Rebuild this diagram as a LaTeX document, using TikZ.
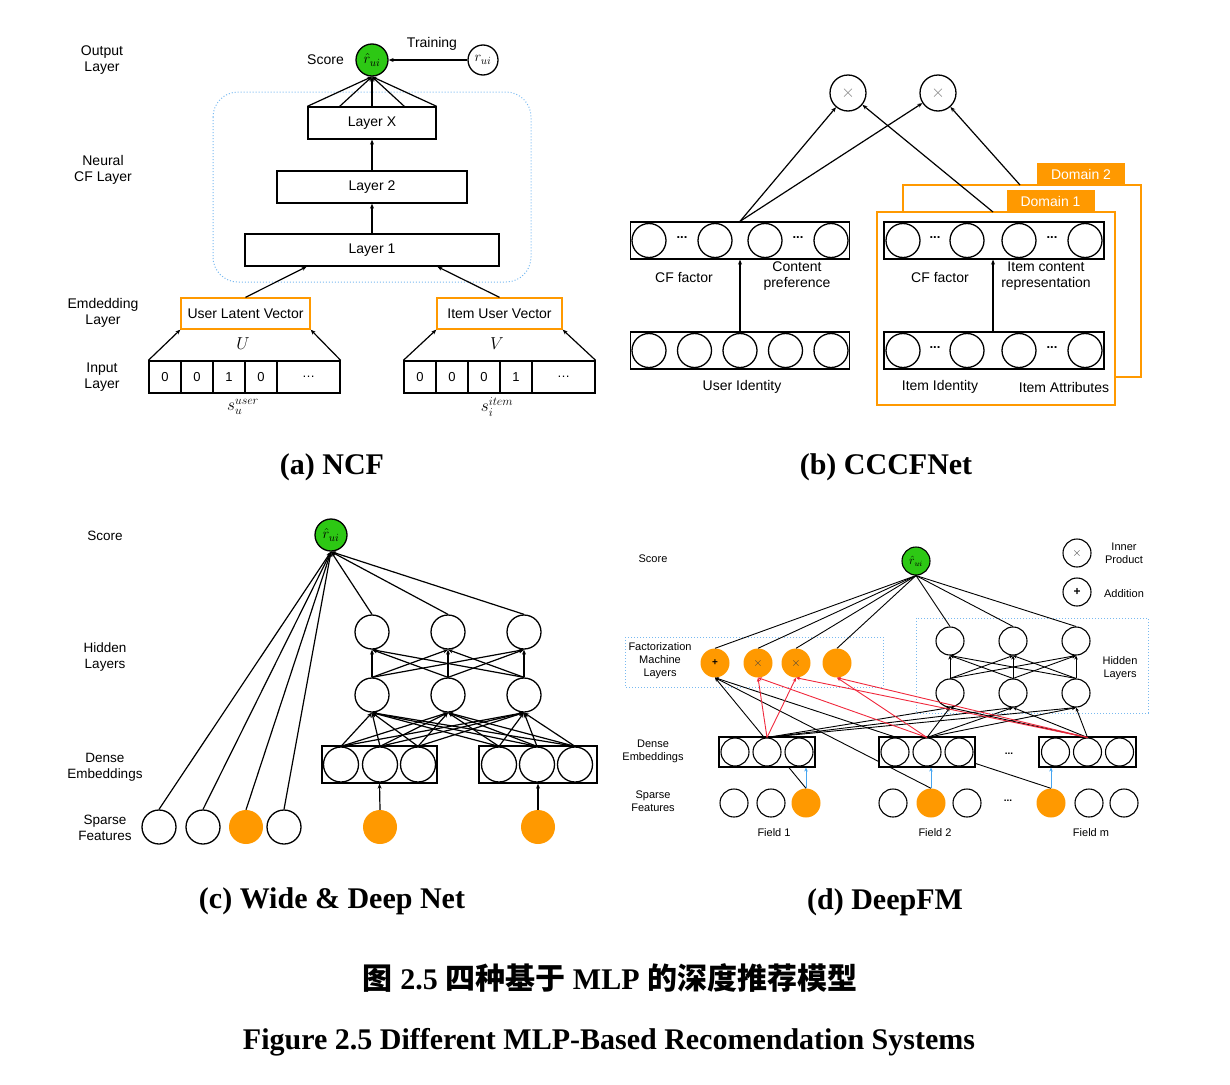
\documentclass[tikz,border=0pt]{standalone}
\usepackage{fontspec}
\setmainfont{Liberation Sans}
\newfontfamily\capfont{Liberation Serif}
\newfontfamily\cjkfont{Noto Sans CJK SC}
\usetikzlibrary{arrows.meta,calc}
\definecolor{orng}{RGB}{255,153,0}
\definecolor{grn}{RGB}{45,200,20}
\definecolor{bluel}{RGB}{120,185,240}
\definecolor{redl}{RGB}{240,40,60}
\definecolor{bluea}{RGB}{70,165,240}
\begin{document}
\begin{tikzpicture}[x=1pt,y=-1pt,
  ln/.style={line width=1.2pt},
  arr/.style={line width=1.2pt,-{Stealth[length=5pt,width=4pt]}},
  thinln/.style={line width=0.9pt},
  tarr/.style={line width=0.9pt,-{Stealth[length=4pt,width=3.5pt]}},
  lbl/.style={font=\fontsize{14}{16.5}\selectfont, align=center, inner sep=0pt},
  slbl/.style={font=\fontsize{11}{13}\selectfont, align=center, inner sep=0pt},
  captxt/.style={font=\capfont\bfseries\fontsize{30}{34}\selectfont, inner sep=0pt},
  neu/.style={circle, draw, line width=1.3pt, fill=white, inner sep=0pt, minimum size=34pt},
  sneu/.style={circle, draw, line width=1.1pt, fill=white, inner sep=0pt, minimum size=28pt},
  onode/.style={circle, fill=orng, inner sep=0pt, minimum size=34pt},
  sonode/.style={circle, fill=orng, inner sep=0pt, minimum size=29pt},
  gnode/.style={circle, draw, line width=1.3pt, fill=grn, inner sep=0pt, minimum size=32pt, font=\fontsize{15}{17}\selectfont},
  lbox/.style={draw, line width=1.3pt, minimum height=32pt, inner sep=0pt, font=\fontsize{14}{16}\selectfont},
  obox/.style={draw=orng, line width=1.3pt, minimum height=31pt, inner sep=0pt, font=\fontsize{14}{16}\selectfont},
  cell/.style={draw, line width=1.3pt, minimum height=32pt, minimum width=32pt, inner sep=0pt, font=\fontsize{13}{15}\selectfont},
  vbox/.style={draw, line width=1.3pt, fill=white, inner sep=0pt},
  frame/.style={draw=orng, line width=1.3pt, fill=white, inner sep=0pt},
  tab/.style={fill=orng, text=white, minimum width=88pt, minimum height=22pt, inner sep=0pt, font=\fontsize{14}{16}\selectfont},
  bdot/.style={draw=bluel, line width=1pt, dotted},
  dts/.style={font=\bfseries\fontsize{13}{13}\selectfont, inner sep=0pt},
  sdts/.style={font=\bfseries\fontsize{10}{10}\selectfont, inner sep=0pt},
]
\useasboundingbox (0,0) rectangle (1230,1084);

%================ (a) NCF =================
\node[lbl] at (102,60) {Output\\Layer};
\node[lbl] at (103,170) {Neural\\CF Layer};
\node[lbl] at (103,313) {Emdedding\\Layer};
\node[lbl] at (102,377) {Input\\Layer};
\draw[bdot, rounded corners=25pt] (213,92) rectangle (531,282);
\node[gnode] (aS) at (372,60) {$\hat r_{ui}$};
\node[lbl, anchor=east] at (344,60) {Score};
\node[neu, minimum size=30pt, font=\fontsize{15}{17}\selectfont] (aR) at (483,60) {$r_{ui}$};
\node[lbl] at (432,44) {Training};
\draw[arr] (aR) -- (aS);
\node[lbox, minimum width=128pt] (aLX) at (372,123) {Layer X};
\node[lbox, minimum width=190pt] (aL2) at (372,187) {Layer 2};
\node[lbox, minimum width=254pt] (aL1) at (372,250) {Layer 1};
\draw[arr] (aL2) -- (aLX);
\draw[arr] (aL1) -- (aL2);
\foreach \f in {0,0.25,0.5,0.75,1}
  \draw[arr] ($(aLX.north west)!\f!(aLX.north east)$) -- (aS.south);
\node[obox, minimum width=129pt] (aU) at (245.5,313.5) {User Latent Vector};
\node[obox, minimum width=125pt] (aV) at (499.5,313.5) {Item User Vector};
\draw[arr] (aU.north) -- ($(aL1.south west)!0.244!(aL1.south east)$);
\draw[arr] (aV.north) -- ($(aL1.south west)!0.756!(aL1.south east)$);
\foreach \t [count=\i] in {0,0,1,0} \node[cell] (aUc\i) at ({165+32*(\i-1)},377) {\t};
\node[cell, minimum width=63pt] (aUc5) at (308.5,377) {\dots};
\foreach \t [count=\i] in {0,0,0,1} \node[cell] (aVc\i) at ({420+32*(\i-1)},377) {\t};
\node[cell, minimum width=63pt] (aVc5) at (563.5,377) {\dots};
\draw[arr] (aUc1.north west) -- (aU.south west);
\draw[arr] (aUc5.north east) -- (aU.south east);
\draw[arr] (aVc1.north west) -- (aV.south west);
\draw[arr] (aVc5.north east) -- (aV.south east);
\node[font=\fontsize{18}{20}\selectfont] at (243,344) {$U$};
\node[font=\fontsize{18}{20}\selectfont] at (497,344) {$V$};
\node[font=\fontsize{17}{19}\selectfont] at (243,407) {$s_u^{user}$};
\node[font=\fontsize{17}{19}\selectfont] at (497,407) {$s_i^{item}$};
\node[captxt] at (332,467) {(a) NCF};

%================ (b) CCCFNet =================
\node[neu, minimum size=36pt, font=\fontsize{16}{16}\selectfont] (bX1) at (848,93) {\textcolor{gray}{$\times$}};
\node[neu, minimum size=36pt, font=\fontsize{16}{16}\selectfont] (bX2) at (938,93) {\textcolor{gray}{$\times$}};
% user side
\node[vbox, minimum width=219pt, minimum height=37pt] (bLT) at (740,240.5) {};
\foreach \x [count=\i] in {649,715,765,831} \node[neu] (bLT\i) at (\x,240.5) {};
\node[dts] at (682,238) {...};
\node[dts] at (798,238) {...};
\node[vbox, minimum width=219pt, minimum height=37pt] (bLB) at (740,350.5) {};
\foreach \x [count=\i] in {649,694.5,740,785.5,831} \node[neu] (bLB\i) at (\x,350.5) {};
\draw[arr] (bLB) -- (bLT);
\node[lbl] at (684,277) {CF factor};
\node[lbl] at (797,276) {Content\\preference};
\node[lbl] at (742,387) {User Identity};
% domains
\node[frame, minimum width=238pt, minimum height=192pt] (bD2) at (1022,281) {};
\node[tab] (bT2) at (1081,174) {Domain 2};
\node[frame, minimum width=238pt, minimum height=193pt] (bD1) at (996,308.5) {};
\node[tab] (bT1) at (1050.5,201) {Domain 1};
\node[vbox, minimum width=220pt, minimum height=37pt] (bRT) at (994,240.5) {};
\foreach \x [count=\i] in {903,967,1019,1085} \node[neu] (bRT\i) at (\x,240.5) {};
\node[dts] at (935,238) {...};
\node[dts] at (1052,238) {...};
\node[vbox, minimum width=220pt, minimum height=37pt] (bRB) at (994,350.5) {};
\foreach \x [count=\i] in {903,967,1019,1085} \node[neu] (bRB\i) at (\x,350.5) {};
\node[dts] at (935,348) {...};
\node[dts] at (1052,348) {...};
\coordinate (bRm) at ($(bRB2.east)!0.5!(bRB3.west)$);
\draw[arr] (bRm |- bRB.north) -- (bRm |- bRT.south);
\node[lbl] at (940,277) {CF factor};
\node[lbl] at (1046,276) {Item content\\representation};
\node[lbl] at (940,387) {Item Identity};
\node[lbl] at (1064,387) {Item Attributes};
\coordinate (bD1t) at (993,212);
\coordinate (bD2t) at (1020,185);
\draw[arr] (bLT.north) -- (bX1);
\draw[arr] (bLT.north) -- (bX2);
\draw[arr] (bD1t) -- (bX1);
\draw[arr] (bD2t) -- (bX2);
\node[captxt] at (886,467) {(b) CCCFNet};

%================ (c) Wide & Deep =================
\node[lbl, font=\fontsize{13.5}{16}\selectfont] at (105,536) {Score};
\node[lbl, font=\fontsize{13.5}{16}\selectfont] at (105,657) {Hidden\\Layers};
\node[lbl, font=\fontsize{13.5}{16}\selectfont] at (105,767) {Dense\\Embeddings};
\node[lbl, font=\fontsize{13.5}{16}\selectfont] at (105,828) {Sparse\\Features};
\node[gnode] (cG) at (331,535) {$\hat r_{ui}$};
\foreach \x [count=\i] in {372,448,524} {
  \node[neu] (cH\i) at (\x,632) {};
  \node[neu] (cL\i) at (\x,695) {};
}
\node[vbox, minimum width=115pt, minimum height=37pt] (cB1) at (379.5,764.5) {};
\node[vbox, minimum width=118pt, minimum height=37pt] (cB2) at (538,764.5) {};
\foreach \x [count=\i] in {341,380,418,499,537,575} \node[neu, minimum size=35pt] (cD\i) at (\x,764.5) {};
\node[neu] (cS1) at (159,827) {};
\node[neu] (cS2) at (203,827) {};
\node[onode] (cS3) at (246,827) {};
\node[neu] (cS4) at (284,827) {};
\node[onode] (cS5) at (380,827) {};
\node[onode] (cS6) at (538,827) {};
\foreach \i in {1,...,4} \draw[arr] (cS\i.north) -- (cG.south);
\foreach \i in {1,2,3} \draw[arr] (cH\i.north) -- (cG.south);
\foreach \i in {1,2,3} \foreach \j in {1,2,3} \draw[arr] (cL\i.north) -- (cH\j.south);
\foreach \i in {1,...,6} \foreach \j in {1,2,3} \draw[arr] (cD\i.north) -- (cL\j.south);
\draw[arr] (cS5.north) -- (cB1.south);
\draw[arr] (cS6.north) -- (cS6.north |- cB2.south);
\node[captxt] at (332,901) {(c) Wide \& Deep Net};

%================ (d) DeepFM =================
\node[slbl] at (653,559) {Score};
\node[slbl] at (660,661) {Factorization\\Machine\\Layers};
\node[slbl] at (653,751) {Dense\\Embeddings};
\node[slbl] at (653,801) {Sparse\\Features};
\draw[bdot] (625,637) rectangle (883,687);
\draw[bdot] (916,618) rectangle (1148,713);
\node[slbl] at (1120,668) {Hidden\\Layers};
% legend
\node[sneu, font=\fontsize{13}{13}\selectfont] (dLx) at (1077,553) {\textcolor{darkgray}{$\times$}};
\node[slbl] at (1124,553) {Inner\\Product};
\node[sneu, font=\fontsize{12}{12}\selectfont] (dLp) at (1077,592) {\textbf{+}};
\node[slbl] at (1124,594) {Addition};
% nodes
\node[gnode, minimum size=28pt, line width=1.1pt, font=\fontsize{12}{13}\selectfont] (dG) at (916,561) {$\hat r_{ui}$};
\node[sonode] (dF1) at (715,663) {\textbf{+}};
\node[sonode, font=\fontsize{13}{13}\selectfont] (dF2) at (758,663) {\textcolor{darkgray}{$\times$}};
\node[sonode, font=\fontsize{13}{13}\selectfont] (dF3) at (796,663) {\textcolor{darkgray}{$\times$}};
\node[sonode] (dF4) at (837,663) {};
\foreach \x [count=\i] in {950,1013,1076} {
  \node[sneu] (dH\i) at (\x,641) {};
  \node[sneu] (dL\i) at (\x,693) {};
}
% sparse features
\node[sneu] (dS1) at (734,803) {};
\node[sneu] (dS2) at (771,803) {};
\node[sonode] (dS3) at (806,803) {};
\node[sneu] (dS4) at (893,803) {};
\node[sonode] (dS5) at (931,803) {};
\node[sneu] (dS6) at (967,803) {};
\node[sonode] (dS7) at (1051,803) {};
\node[sneu] (dS8) at (1089,803) {};
\node[sneu] (dS9) at (1124,803) {};
\node[sdts] at (1008,801) {...};
% first-order lines (behind embeddings)
\draw[tarr] (dS3.north) -- (dF1.south);
\draw[tarr] (dS5.north) -- (dF1.south);
\draw[tarr] (dS7.north) -- (dF1.south);
% dense embeddings
\node[vbox, line width=1.1pt, minimum width=96pt, minimum height=30pt] (dB1) at (767,752) {};
\node[vbox, line width=1.1pt, minimum width=96pt, minimum height=30pt] (dB2) at (927,752) {};
\node[vbox, line width=1.1pt, minimum width=97pt, minimum height=30pt] (dB3) at (1087.5,752) {};
\foreach \x [count=\i] in {735,767,799} \node[sneu] (dE1\i) at (\x,752) {};
\foreach \x [count=\i] in {895,927,959} \node[sneu] (dE2\i) at (\x,752) {};
\foreach \x [count=\i] in {1055.5,1087.5,1119.5} \node[sneu] (dE3\i) at (\x,752) {};
\node[sdts] at (1009,754) {...};
\node[slbl] at (774,833) {Field 1};
\node[slbl] at (935,833) {Field 2};
\node[slbl] at (1091,833) {Field m};
% embedding arrows
\draw[tarr, draw=bluea] (dS3.north) -- (dS3.north |- dB1.south);
\draw[tarr, draw=bluea] (dS5.north) -- (dS5.north |- dB2.south);
\draw[tarr, draw=bluea] (dS7.north) -- (dS7.north |- dB3.south);
% deep part
\foreach \b in {1,2,3} \foreach \j in {1,2,3} \draw[tarr] (dE\b2.north) -- (dL\j.south);
\foreach \i in {1,2,3} \foreach \j in {1,2,3} \draw[tarr] (dL\i.north) -- (dH\j.south);
% FM inner products
\draw[tarr, draw=redl] (dE12.north) -- (dF2.south);
\draw[tarr, draw=redl] (dE12.north) -- (dF3.south);
\draw[tarr, draw=redl] (dE22.north) -- (dF2.south);
\draw[tarr, draw=redl] (dE22.north) -- (dF4.south);
\draw[tarr, draw=redl] (dE32.north) -- (dF3.south);
\draw[tarr, draw=redl] (dE32.north) -- (dF4.south);
% to output
\foreach \i in {1,...,4} \draw[thinln] (dF\i.north) -- (dG.south);
\foreach \i in {1,2,3} \draw[thinln] (dH\i.north) -- (dG.south);
\node[captxt] at (885,902) {(d) DeepFM};

%================ captions =================
\node[captxt] at (610,978) {{\cjkfont 图} 2.5 {\cjkfont 四种基于} MLP {\cjkfont 的深度推荐模型}};
\node[captxt] at (609,1042) {Figure 2.5 Different MLP-Based Recomendation Systems};
\end{tikzpicture}
\end{document}
